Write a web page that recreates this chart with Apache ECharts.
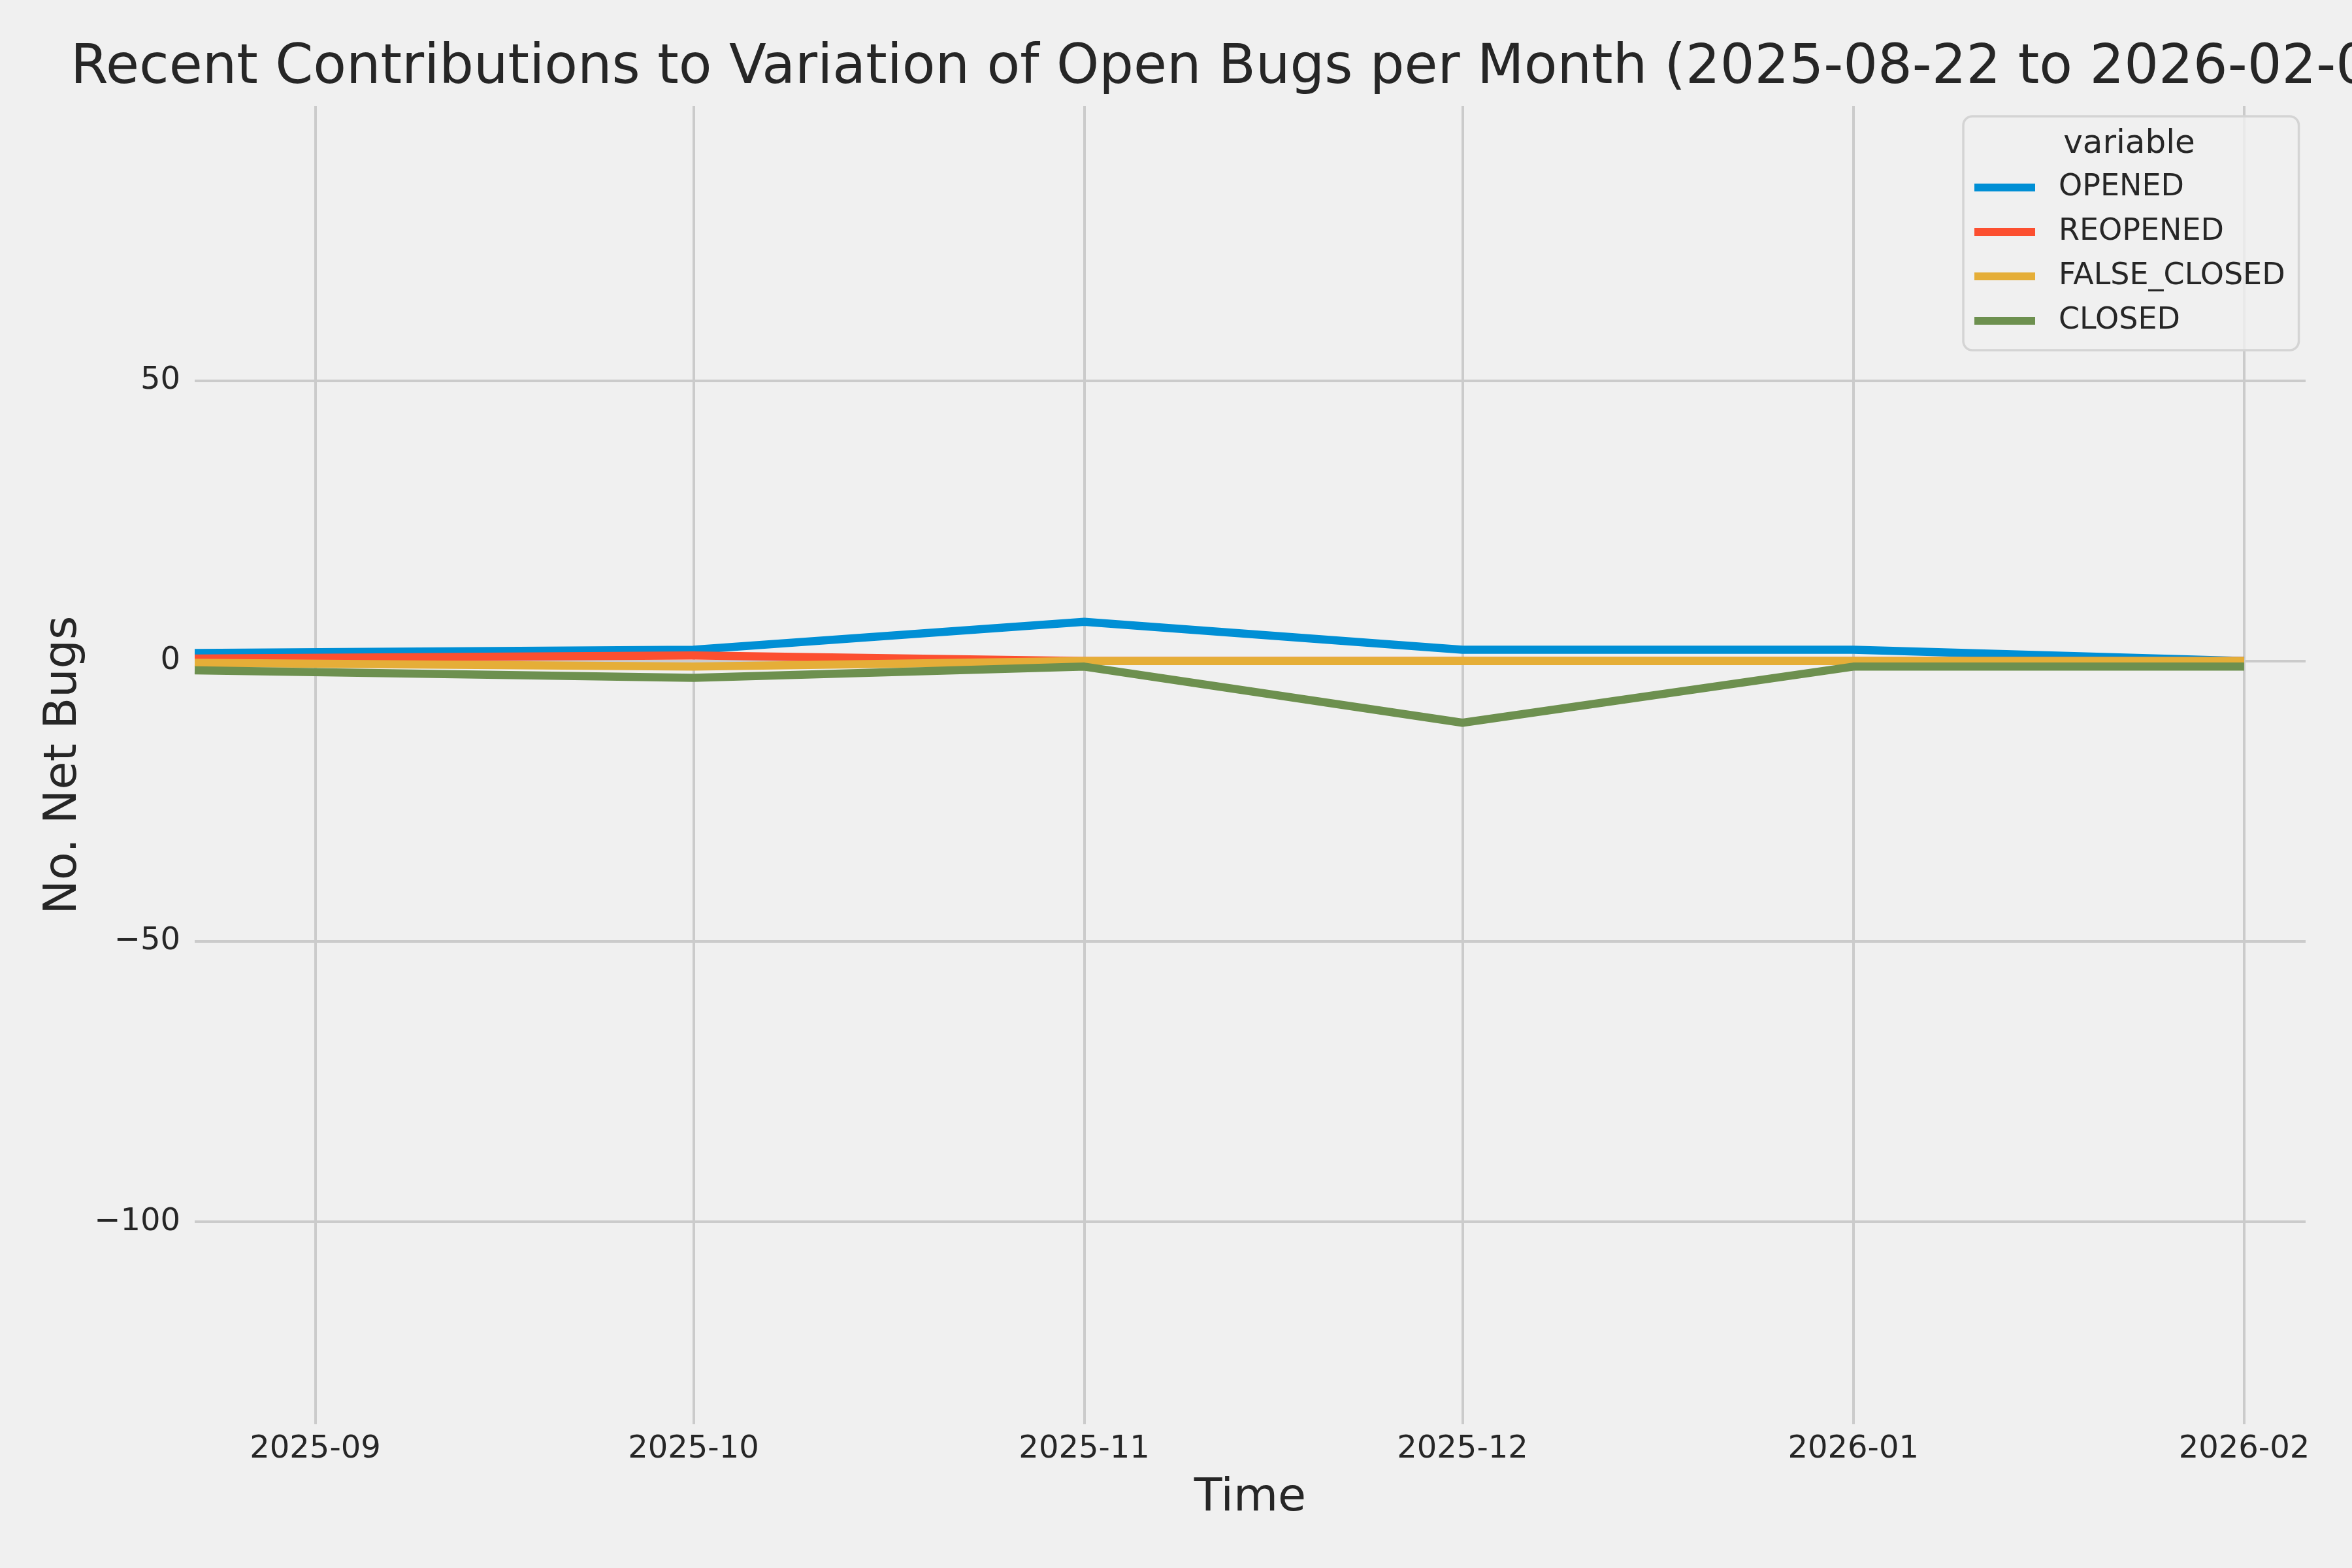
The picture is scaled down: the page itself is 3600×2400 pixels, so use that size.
<!DOCTYPE html>
<html>
<head>
<meta charset="utf-8">
<script src="https://cdn.jsdelivr.net/npm/echarts@6/dist/echarts.min.js"></script>
<style>
html,body{margin:0;padding:0;background:#f0f0f0;}
#chart{width:3600px;height:2400px;}
</style>
</head>
<body>
<div id="chart"></div>
<script>
// ---- data ----
const dates = ['2025-08-22T10:30:00', '2025-10-01T00:00:00', '2025-11-01T00:00:00', '2025-12-01T00:00:00', '2026-01-01T00:00:00', '2026-02-01T00:00:00'];
const seriesNames = ['OPENED', 'REOPENED', 'FALSE_CLOSED', 'CLOSED'];
const opened = [1.43, 2, 7, 2, 2, 0];
const reopened = [0.43, 1, 0, 0, 0, 0];
const falseClosed = [-0.31, -1, 0, 0, 0, 0];
const closed = [-1.67, -3, -1, -11, -1, -1];
const xTickDates = ['2025-09-01T00:00:00', '2025-10-01T00:00:00', '2025-11-01T00:00:00', '2025-12-01T00:00:00', '2026-01-01T00:00:00', '2026-02-01T00:00:00'];
const xTickLabels = ['2025-09', '2025-10', '2025-11', '2025-12', '2026-01', '2026-02'];
const yTickValues = [-100, -50, 0, 50];
const xMin = '2025-08-22T10:30:00';
const xMax = '2026-02-05T21:00:00';
const yMin = -136.1;
const yMax = 99.0;
const titleText = 'Recent Contributions to Variation of Open Bugs per Month (2025-08-22 to 2026-02-05)';

const colors = ['#008fd5', '#fc4f30', '#e5ae38', '#6d904f'];
const values = [opened, reopened, falseClosed, closed];
const FONT = 'DejaVu Sans';
const TXT = '#262626';

const toTime = d => new Date(d).getTime();
const xTickTimes = xTickDates.map(toTime);

const chart = echarts.init(document.getElementById('chart'), null, {renderer: 'canvas', width: 3600, height: 2400});

const series = seriesNames.map((name, i) => ({
  name: name,
  type: 'line',
  data: dates.map((d, j) => [toTime(d), values[i][j]]),
  symbol: 'none',
  showSymbol: false,
  color: colors[i],
  lineStyle: {width: 12.5, color: colors[i], join: 'round', cap: 'butt'},
  itemStyle: {color: colors[i]},
  clip: true,
  animation: false
}));

chart.setOption({
  backgroundColor: '#f0f0f0',
  animation: false,
  title: {
    text: titleText,
    left: 108,
    top: 64,
    padding: 0,
    textStyle: {fontFamily: FONT, fontSize: 83, fontWeight: 'normal', color: TXT}
  },
  grid: {left: 298, right: 71, top: 162, bottom: 220, containLabel: false},
  legend: {
    orient: 'vertical',
    left: 3005,
    top: 178,
    padding: [86, 21, 22, 17],
    itemWidth: 93,
    itemHeight: 12,
    itemGap: 22,
    icon: 'rect',
    backgroundColor: 'rgba(240,240,240,0.8)',
    borderColor: '#d4d4d4',
    borderWidth: 3.5,
    borderRadius: 14,
    textStyle: {fontFamily: FONT, fontSize: 46, color: TXT, padding: [0, 0, 0, 31]},
    data: seriesNames
  },
  graphic: [{
    type: 'text',
    x: 3259,
    y: 221,
    z: 100,
    style: {text: 'variable', fontFamily: FONT, fontSize: 50, fill: TXT, textAlign: 'center', textVerticalAlign: 'middle'}
  }],
  xAxis: {
    type: 'value',
    min: toTime(xMin),
    max: toTime(xMax),
    name: 'Time',
    nameLocation: 'middle',
    nameGap: 79,
    nameTextStyle: {fontFamily: FONT, fontSize: 70, color: TXT},
    axisLine: {show: false},
    axisTick: {show: false, customValues: xTickTimes},
    axisLabel: {
      customValues: xTickTimes,
      margin: 15,
      fontFamily: FONT, fontSize: 48, color: TXT,
      formatter: function (v) {
        const idx = xTickTimes.indexOf(v);
        return idx >= 0 ? xTickLabels[idx] : '';
      }
    },
    splitLine: {show: true, lineStyle: {color: '#cbcbcb', width: 4}}
  },
  yAxis: {
    type: 'value',
    min: yMin,
    max: yMax,
    name: 'No. Net Bugs',
    nameLocation: 'middle',
    nameGap: 164,
    nameRotate: 90,
    nameTextStyle: {fontFamily: FONT, fontSize: 70, color: TXT},
    axisLine: {show: false},
    axisTick: {show: false, customValues: yTickValues},
    axisLabel: {
      customValues: yTickValues,
      margin: 22,
      fontFamily: FONT, fontSize: 48, color: TXT,
      formatter: function (v) { return String(v).replace('-', '\u2212'); }
    },
    splitLine: {show: true, lineStyle: {color: '#cbcbcb', width: 4}}
  },
  series: series
});
</script>
</body>
</html>
